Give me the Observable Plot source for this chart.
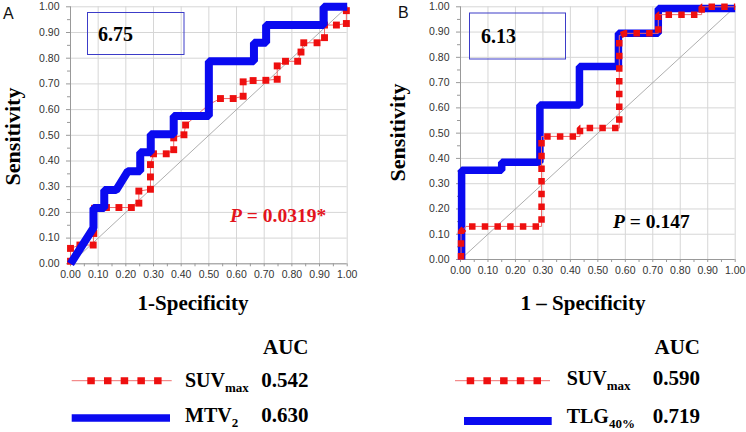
<!DOCTYPE html>
<html><head><meta charset="utf-8">
<script src="https://cdn.jsdelivr.net/npm/d3@7"></script>
<script src="https://cdn.jsdelivr.net/npm/@observablehq/plot@0.6"></script>
<style>
html,body{margin:0;padding:0;background:#fff;}
#wrap{position:relative;width:746px;height:432px;overflow:hidden;background:#fff;}
#pa{position:absolute;left:0;top:0;}
#pb{position:absolute;left:373px;top:0;}
#ov{position:absolute;left:0;top:0;pointer-events:none;}
.serif{font-family:"Liberation Serif","Times New Roman",serif;font-weight:bold;}
.sans{font-family:"Liberation Sans",Arial,sans-serif;}
</style></head><body>
<div id="wrap">
<div id="pa"></div><div id="pb"></div>
<svg id="ov" width="746" height="432" xmlns="http://www.w3.org/2000/svg">
  <text class="sans" x="3" y="19" font-size="16" fill="#111">A</text>
  <text class="sans" x="398" y="18" font-size="16" fill="#111">B</text>
  <text class="serif" font-size="22" text-anchor="middle" transform="translate(20,136.5) rotate(-90)" fill="#000">Sensitivity</text>
  <text class="serif" font-size="22" text-anchor="middle" transform="translate(405,132.5) rotate(-90)" fill="#000">Sensitivity</text>
  <rect x="87.5" y="12.5" width="96.5" height="42" fill="none" stroke="#3c3cc8" stroke-width="1"/>
  <text class="serif" x="98" y="41.2" font-size="20" fill="#000">6.75</text>
  <rect x="469.5" y="13" width="96" height="46" fill="none" stroke="#3c3cc8" stroke-width="1"/>
  <text class="serif" x="481" y="43" font-size="20" fill="#000">6.13</text>
  <text class="serif" x="230" y="221.7" font-size="19.5" fill="#e3141c"><tspan font-style="italic">P</tspan> = 0.0319*</text>
  <text class="serif" x="613" y="228" font-size="19.5" fill="#000"><tspan font-style="italic">P</tspan> = 0.147</text>
  <text class="serif" x="193" y="309.5" font-size="21" text-anchor="middle" fill="#000">1-Specificity</text>
  <text class="serif" x="583" y="309.5" font-size="21" text-anchor="middle" fill="#000">1 – Specificity</text>
  <text class="serif" x="308.5" y="353.5" font-size="21" text-anchor="end" fill="#000">AUC</text>
  <text class="serif" x="700" y="353.5" font-size="21" text-anchor="end" fill="#000">AUC</text>
  <!-- legend A -->
  <line x1="71.7" x2="171.7" y1="380.7" y2="380.7" stroke="#f07070" stroke-width="1"/>
  <line x1="87.3" x2="162" y1="380.7" y2="380.7" stroke="#ee0f0f" stroke-width="7" stroke-dasharray="7.5 9.2"/>
  <line x1="71.7" x2="170" y1="418" y2="418" stroke="#0a0af0" stroke-width="7.5"/>
  <text class="serif" x="185" y="386.7" font-size="20" fill="#000">SUV<tspan font-size="13" dy="5">max</tspan></text>
  <text class="serif" x="308.5" y="386.7" font-size="21" text-anchor="end" fill="#000">0.542</text>
  <text class="serif" x="185" y="421.7" font-size="20" fill="#000">MTV<tspan font-size="13" dy="5">2</tspan></text>
  <text class="serif" x="308.5" y="421.7" font-size="21" text-anchor="end" fill="#000">0.630</text>
  <!-- legend B -->
  <line x1="455" x2="550" y1="380.7" y2="380.7" stroke="#f07070" stroke-width="1"/>
  <line x1="466.7" x2="541" y1="380.7" y2="380.7" stroke="#ee0f0f" stroke-width="7" stroke-dasharray="7.5 9.2"/>
  <line x1="464" x2="551.7" y1="421" y2="421" stroke="#0a0af0" stroke-width="8"/>
  <text class="serif" x="566.7" y="385.3" font-size="20" fill="#000">SUV<tspan font-size="13" dy="5">max</tspan></text>
  <text class="serif" x="700" y="385.3" font-size="21" text-anchor="end" fill="#000">0.590</text>
  <text class="serif" x="566.7" y="423.3" font-size="20" fill="#000">TLG<tspan font-size="13" dy="5">40%</tspan></text>
  <text class="serif" x="700" y="423.3" font-size="21" text-anchor="end" fill="#000">0.719</text>
</svg>
</div>
<script>
// Tick values
const majorTicks = [0, 0.1, 0.2, 0.3, 0.4, 0.5, 0.6, 0.7, 0.8, 0.9, 1.0];
const minorTicks = [0.05, 0.15, 0.25, 0.35, 0.45, 0.55, 0.65, 0.75, 0.85, 0.95];
// Chance diagonal
const diagX = [0, 1];
const diagY = [0, 1];

// Panel A: MTV2 (blue)
const aMtvX = [0, 0.083, 0.083, 0.122, 0.122, 0.165, 0.207, 0.252, 0.252, 0.290, 0.290, 0.373, 0.373, 0.500, 0.500, 0.663, 0.663, 0.707, 0.707, 0.915, 0.915, 1.0];
const aMtvY = [0, 0.140, 0.217, 0.217, 0.287, 0.287, 0.360, 0.360, 0.434, 0.434, 0.504, 0.504, 0.575, 0.575, 0.788, 0.788, 0.860, 0.860, 0.929, 0.929, 1.0, 1.0];
// Panel A: SUVmax (red)
const aSuvX = [0, 0, 0.034, 0.082, 0.084, 0.087, 0.130, 0.175, 0.220, 0.247, 0.247, 0.289, 0.289, 0.289, 0.300, 0.346, 0.373, 0.373, 0.410, 0.416, 0.500, 0.542, 0.588, 0.624, 0.624, 0.660, 0.706, 0.747, 0.747, 0.777, 0.821, 0.833, 0.843, 0.891, 0.918, 0.918, 0.961, 0.997, 0.997];
const aSuvY = [0.010, 0.060, 0.073, 0.073, 0.118, 0.216, 0.219, 0.219, 0.219, 0.236, 0.283, 0.290, 0.338, 0.386, 0.428, 0.428, 0.444, 0.490, 0.502, 0.540, 0.620, 0.643, 0.643, 0.652, 0.708, 0.713, 0.714, 0.718, 0.770, 0.788, 0.788, 0.824, 0.860, 0.860, 0.880, 0.929, 0.929, 0.935, 0.985];

// Panel B: TLG40% (blue)
const bTlgX = [0.004, 0.004, 0.150, 0.150, 0.289, 0.289, 0.433, 0.433, 0.575, 0.575, 0.720, 0.720, 1.0];
const bTlgY = [0, 0.353, 0.353, 0.385, 0.385, 0.611, 0.611, 0.764, 0.764, 0.895, 0.895, 0.993, 0.993];
// Panel B: SUVmax (red)
const bSuvX = [0.002, 0.002, 0.020, 0.295, 0.295, 0.435, 0.435, 0.578, 0.578, 0.600, 0.720, 0.720, 0.878, 0.878, 1.0];
const bSuvY = [0, 0.110, 0.131, 0.131, 0.487, 0.487, 0.520, 0.520, 0.886, 0.895, 0.895, 0.969, 0.969, 1.0, 1.0];

const zip = (xs, ys) => xs.map((x, i) => ({x, y: ys[i]}));
const BLUE = "#0a0af0", RED = "#ee0f0f", THIN = "#f06868";

function baseMarks() {
  const fmt = d3.format(".2f");
  return [
    Plot.gridX(majorTicks, {stroke: "#d6d6d6", strokeOpacity: 1, strokeWidth: 1}),
    Plot.gridY(majorTicks, {stroke: "#d6d6d6", strokeOpacity: 1, strokeWidth: 1}),
    Plot.axisX(majorTicks, {tickFormat: fmt, tickSize: 3, tickPadding: 4, stroke: "#999", fill: "#333", label: null}),
    Plot.axisX(minorTicks, {tickFormat: () => "", tickSize: 3, stroke: "#999", label: null}),
    Plot.axisY(majorTicks, {tickFormat: fmt, tickSize: 4, tickPadding: 7, stroke: "#999", fill: "#333", label: null}),
    Plot.axisY(minorTicks, {tickFormat: () => "", tickSize: 3, stroke: "#999", label: null}),
    Plot.ruleX([0], {stroke: "#999"}),
    Plot.ruleY([0], {stroke: "#999"}),
    Plot.line(zip(diagX, diagY), {x: "x", y: "y", stroke: "#999", strokeWidth: 0.8})
  ];
}

const common = {
  width: 373, height: 285,
  x: {domain: [0, 1]}, y: {domain: [0, 1]},
  style: {fontFamily: "'Liberation Sans', Arial, sans-serif", fontSize: "10.5px", background: "transparent", overflow: "visible"}
};

const plotA = Plot.plot({
  ...common,
  marginLeft: 70, marginRight: 26.3, marginTop: 6.3, marginBottom: 21.7,
  marks: [
    ...baseMarks(),
    Plot.line(zip(aSuvX, aSuvY), {x: "x", y: "y", stroke: THIN, strokeWidth: 1}),
    Plot.dot(zip(aSuvX, aSuvY), {x: "x", y: "y", symbol: "square", r: 3.9, fill: RED, stroke: "none"}),
    Plot.line(zip(aMtvX, aMtvY), {x: "x", y: "y", stroke: BLUE, strokeWidth: 8, strokeLinejoin: "miter", strokeLinecap: "butt"})
  ]
});
document.getElementById("pa").appendChild(plotA);

const plotB = Plot.plot({
  ...common,
  marginLeft: 87, marginRight: 11.3, marginTop: 6.3, marginBottom: 26,
  marks: [
    ...baseMarks(),
    Plot.line(zip(bTlgX, bTlgY), {x: "x", y: "y", stroke: BLUE, strokeWidth: 7.5, strokeLinejoin: "miter", strokeLinecap: "butt"}),
    Plot.line(zip(bSuvX, bSuvY), {x: "x", y: "y", stroke: THIN, strokeWidth: 1}),
    Plot.line(zip(bSuvX, bSuvY), {x: "x", y: "y", stroke: RED, strokeWidth: 6.5, strokeDasharray: "6.5 6.2", strokeLinejoin: "miter", strokeLinecap: "butt"})
  ]
});
document.getElementById("pb").appendChild(plotB);
</script>
</body></html>
